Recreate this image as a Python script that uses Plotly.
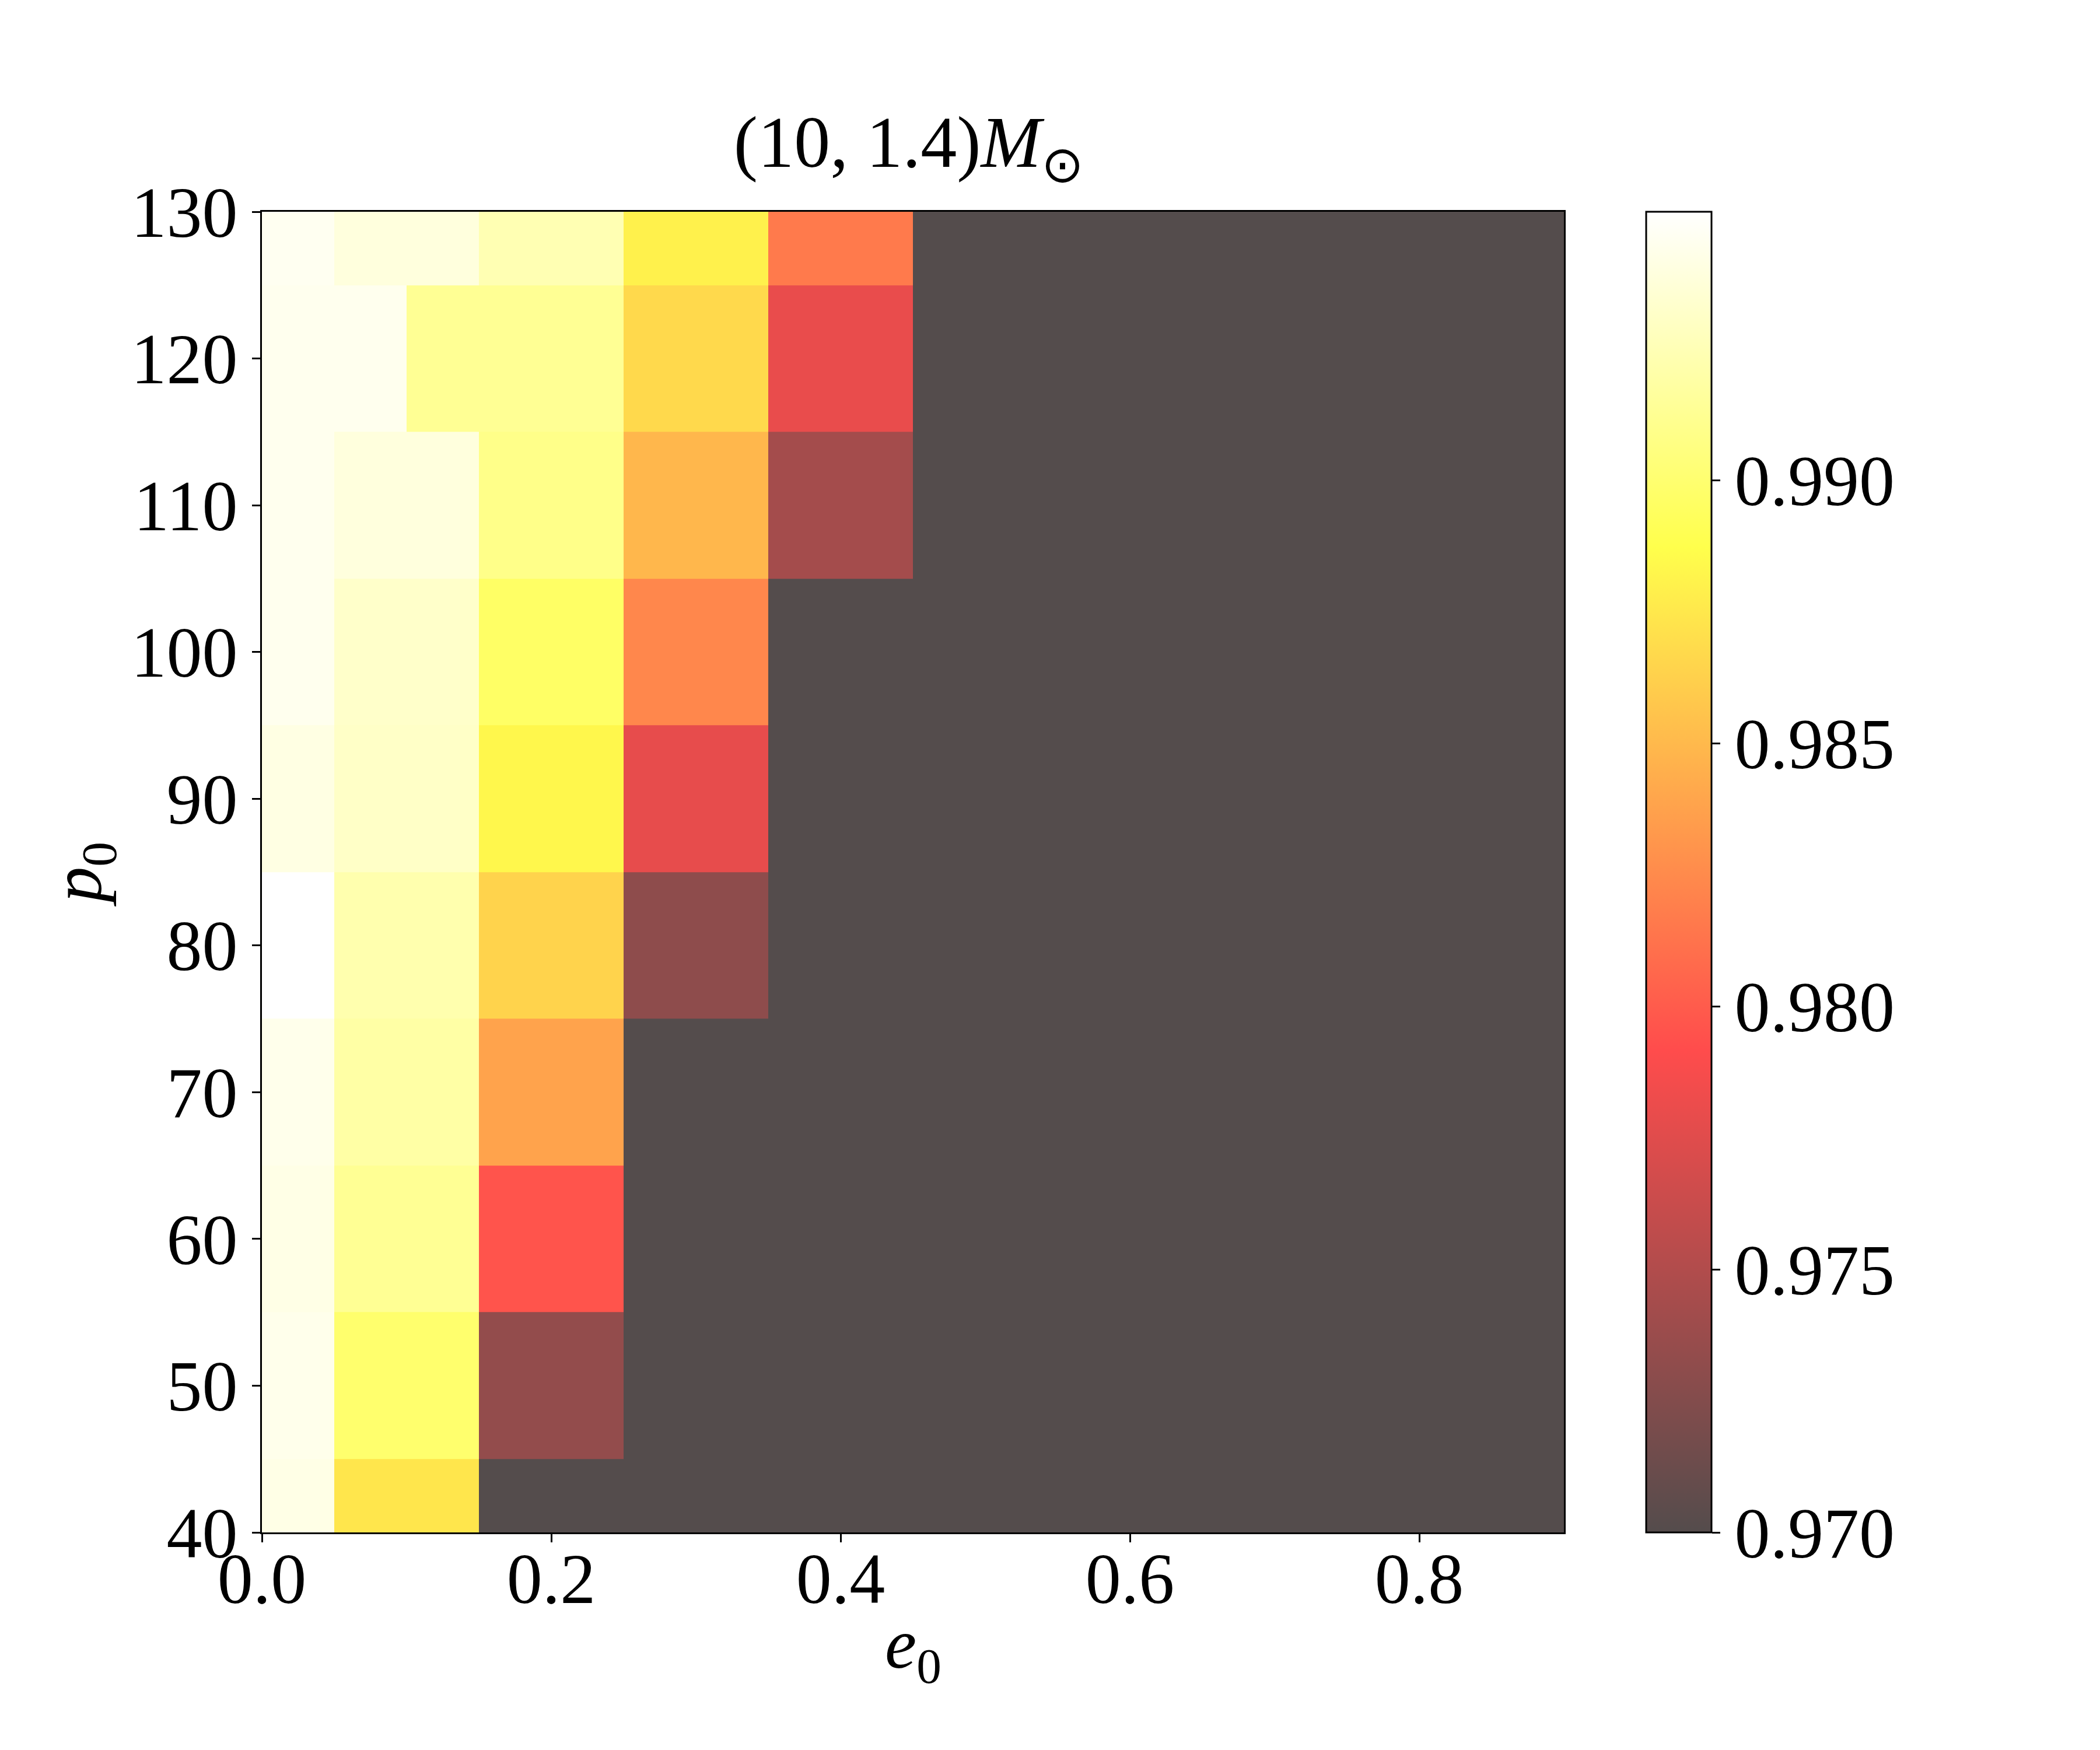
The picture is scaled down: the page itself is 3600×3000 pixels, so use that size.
import plotly.graph_objects as go

# grid of the scan
e0 = [0.0, 0.1, 0.2, 0.3, 0.4, 0.5, 0.6, 0.7, 0.8, 0.9]
p0 = [40, 50, 60, 70, 80, 90, 100, 110, 120, 130]

# match per p0 row (values below 0.970 are clipped to the darkest colour)
LOW = 0.965
match_p40 = [0.9942, 0.9874, LOW, LOW, LOW, LOW, LOW, LOW, LOW, LOW]
match_p50 = [0.9944, 0.9899, 0.9734, LOW, LOW, LOW, LOW, LOW, LOW, LOW]
match_p60 = [0.9942, 0.9913, 0.9796, LOW, LOW, LOW, LOW, LOW, LOW, LOW]
match_p70 = [0.9944, 0.9919, 0.9838, LOW, LOW, LOW, LOW, LOW, LOW, LOW]
match_p80 = [0.9955, 0.9922, 0.9864, 0.9731, LOW, LOW, LOW, LOW, LOW, LOW]
match_p90 = [0.9941, 0.9931, 0.9883, 0.9779, LOW, LOW, LOW, LOW, LOW, LOW]
match_p100 = [0.9945, 0.9932, 0.9896, 0.9823, LOW, LOW, LOW, LOW, LOW, LOW]
match_p110 = [0.9945, 0.9939, 0.9909, 0.9849, 0.9743, LOW, LOW, LOW, LOW, LOW]
match_p120 = [0.9945, 0.9945, 0.9913, 0.9867, 0.9780, LOW, LOW, LOW, LOW, LOW]
match_p130 = [0.9946, 0.9939, 0.9924, 0.9880, 0.9816, LOW, LOW, LOW, LOW, LOW]
# at p0=120 the e0=0.1 cell switches colour at e0=0.1
match_p120_e01_right = 0.9913

rows = [match_p40, match_p50, match_p60, match_p70, match_p80,
        match_p90, match_p100, match_p110, match_p120, match_p130]

VMIN, VMAX = 0.970, 0.9951

# cell edges (nearest shading), with an extra edge at e0=0.1
x_edges = [e0[0] - 0.05] + [(a + b) / 2 for a, b in zip(e0[:-1], e0[1:])] + [e0[-1] + 0.05]
x_edges = x_edges[:2] + [0.1] + x_edges[2:]
y_edges = [p0[0] - 5] + [(a + b) / 2 for a, b in zip(p0[:-1], p0[1:])] + [p0[-1] + 5]

z = []
for p, r in zip(p0, rows):
    right = match_p120_e01_right if p == 120 else r[1]
    z.append([r[0], r[1], right] + r[2:])

# matplotlib "hot" drawn with alpha 0.7 on white
def blend(r, g, b):
    f = lambda c: round(255 * (0.3 + 0.7 * c))
    return f"rgb({f(r)},{f(g)},{f(b)})"

hot = [
    [0.0, blend(0.0416, 0, 0)],
    [0.365079, blend(1, 0, 0)],
    [0.746032, blend(1, 1, 0)],
    [1.0, blend(1, 1, 1)],
]

FONT = "Liberation Serif"

fig = go.Figure(go.Heatmap(
    x=x_edges, y=y_edges, z=z,
    zmin=VMIN, zmax=VMAX, colorscale=hot,
    colorbar=dict(
        x=1.063, xanchor="left", xpad=0, y=0.5, yanchor="middle", ypad=0,
        len=1, lenmode="fraction",
        thickness=112, outlinewidth=3, outlinecolor="black",
        tickvals=[0.970, 0.975, 0.980, 0.985, 0.990],
        ticktext=["0.970", "0.975", "0.980", "0.985", "0.990"],
        ticks="outside", ticklen=14, tickwidth=3, tickcolor="black",
        tickfont=dict(family=FONT, size=122, color="black"),
    ),
    hoverongaps=False,
))

fig.update_layout(
    width=3600, height=3000,
    paper_bgcolor="white", plot_bgcolor="white",
    margin=dict(l=441, r=927, t=355, b=381),
    font=dict(family=FONT, color="black", size=118),
    title=dict(text="(10, 1.4)<i>M</i><sub>⊙</sub>", x=0.4305, xanchor="center",
               y=0.9075, yanchor="bottom", font=dict(family=FONT, size=124, color="black")),
    annotations=[dict(
        text="<i>e</i><sub>0</sub>", xref="paper", yref="paper", x=0.5, y=-0.088,
        xanchor="center", yanchor="middle", showarrow=False,
        font=dict(family=FONT, size=122, color="black"),
    )],
)
fig.update_xaxes(
    range=[0, 0.9], tickvals=[0, 0.2, 0.4, 0.6, 0.8], ticktext=["0.0", "0.2", "0.4", "0.6", "0.8"],
    ticks="outside", ticklen=14, tickwidth=3, tickcolor="black",
    showline=True, linecolor="black", linewidth=3, mirror=True, showgrid=False, zeroline=False,
    ticklabelstandoff=-42,
    tickfont=dict(family=FONT, size=122, color="black"),
)
fig.update_yaxes(
    range=[40, 130], tickvals=list(range(40, 131, 10)),
    ticks="outside", ticklen=14, tickwidth=3, tickcolor="black",
    showline=True, linecolor="black", linewidth=3, mirror=True, showgrid=False, zeroline=False,
    tickfont=dict(family=FONT, size=122, color="black"),
    title=dict(text="<i>p</i><sub>0</sub>", standoff=10, font=dict(family=FONT, size=122)),
)

fig.write_html("out.html")
